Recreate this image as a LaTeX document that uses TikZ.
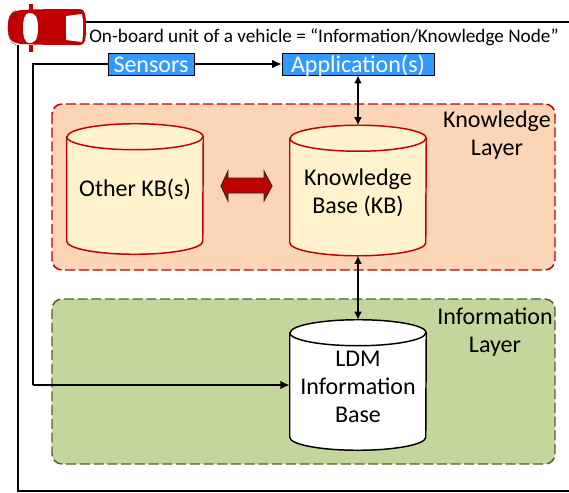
\documentclass[tikz,border=0pt]{standalone}
\usepackage{fontspec}
\setmainfont{Carlito}
\usetikzlibrary{arrows.meta}
\definecolor{kbred}{HTML}{C00000}
\definecolor{kbfill}{HTML}{FFF2CC}
\definecolor{klayer}{HTML}{FBD5B5}
\definecolor{ilayer}{HTML}{C3D69B}
\definecolor{iedge}{HTML}{4F6228}
\definecolor{appblue}{HTML}{3399FF}
\tikzset{
  x=0.75pt,y=-0.75pt,
  layerbox/.style={rounded corners=7.5pt,line width=1.1pt,dash pattern=on 7.5pt off 2.8pt},
  cylbody/.style={line width=1.1pt},
  bluebox/.style={draw=black,fill=appblue,text=white,line width=0.7pt,minimum height=16.5pt,inner sep=0pt,font=\fontsize{18}{20}\selectfont},
  bigtext/.style={align=center,font=\fontsize{18}{21}\selectfont,inner sep=0pt},
  cylslot/.style={minimum width=102pt,minimum height=97.5pt,inner sep=0pt},
  wire/.style={line width=1.4pt,-{Latex[length=7pt,width=6.5pt]}},
  bothwire/.style={line width=1.4pt,{Latex[length=6pt,width=6pt]}-{Latex[length=6pt,width=6pt]}},
  frameline/.style={line width=1.4pt}
}
\newcommand{\cylshape}[3]{% node name, edge, fill
  \path[cylbody,draw=#2,fill=#3]
    ([yshift=-9.75pt]#1.north west) -- ([yshift=9.75pt]#1.south west)
    arc[start angle=180,end angle=360,x radius=51pt,y radius=9.75pt]
    -- ([yshift=-9.75pt]#1.north east)
    arc[start angle=0,end angle=180,x radius=51pt,y radius=9.75pt] -- cycle;
  \draw[cylbody,draw=#2] ([yshift=-9.75pt]#1.north west)
    arc[start angle=180,end angle=360,x radius=51pt,y radius=9.75pt];
}
\begin{document}
\begin{tikzpicture}
\useasboundingbox (0,0) rectangle (569,493);
% outer frame
\coordinate (frameL) at (18,45);
\coordinate (frameBL) at (18,491);
\coordinate (frameBR) at (569,491);
\coordinate (frameT) at (85,22);
\coordinate (frameTR) at (569,22);
\draw[frameline] (frameL) -- (frameBL) -- (frameBR);
\draw[frameline] (frameT) -- (frameTR);
% layers
\fill[klayer] (52,104) [rounded corners=7.5pt] rectangle (555,270);
\draw[layerbox,draw=kbred] (52,104) rectangle (555,270);
\fill[ilayer] (52,299) [rounded corners=7.5pt] rectangle (555,464);
\draw[layerbox,draw=iedge] (52,299) rectangle (555,464);
\node[bigtext] (klabel) at (497,135.5) {Knowledge\\Layer};
\node[bigtext] (ilabel) at (495,332) {Information\\Layer};
% cylinders
\node[cylslot] (other) at (135,189) {};
\node[cylslot] (kb) at (358,190.5) {};
\node[cylslot] (ldm) at (358,385) {};
\cylshape{other}{kbred}{kbfill}
\cylshape{kb}{kbred}{kbfill}
\cylshape{ldm}{black}{white}
\node[bigtext] (othertext) at (135,189) {Other KB(s)};
\node[bigtext] (kbtext) at (358,192.5) {Knowledge\\Base (KB)};
\node[bigtext] (ldmtext) at (358,386.5) {LDM\\Information\\Base};
% boxes
\node[bluebox,minimum width=64.5pt,text depth=0pt,text height=0pt] (sensors) at (151,64) {\raisebox{-6pt}{Sensors}};
\node[bluebox,minimum width=114pt,text depth=0pt,text height=0pt] (app) at (358,64) {\raisebox{-6pt}{Application(s)}};
\node[anchor=west,inner sep=0pt,font=\fontsize{14.4}{16}\selectfont] (title) at (89,37) {On-board unit of a vehicle = “Information/Knowledge Node”};
% connectors
\coordinate (wireA) at (33,64);
\coordinate (wireB) at (33,385);
\draw[line width=1.4pt] (sensors.west) -- (wireA) -- (wireB);
\draw[wire] (wireB) -- (ldm.west |- wireB);
\draw[wire,line width=1.1pt] (sensors.east) -- (app.west);
\draw[bothwire] (app.south) -- (kb.north);
\draw[bothwire] (kb.south) -- (ldm.north);
% double arrow
\draw[fill=kbred,draw=black!85,line width=0.7pt,line join=miter]
  (221,186) -- (228,171) -- (228,178) -- (264,178) -- (264,171) -- (272,186)
  -- (264,201) -- (264,193) -- (228,193) -- (228,201) -- cycle;
% car
\fill[kbred] (28.5,4) rectangle (32.5,10);
\fill[kbred] (28.5,45) rectangle (32.5,52);
\draw[gray,line width=0.5pt] (16,10) .. controls (10,12) and (8,20) .. (8,27);
\draw[gray,line width=0.5pt] (16,45) .. controls (10,43) and (8,36) .. (8,27);
\fill[kbred] (8,27) .. controls (8,14) and (12,11) .. (22,10)
  .. controls (40,9) and (62,9) .. (80,9)
  .. controls (85,9) and (86,15) .. (86,27)
  .. controls (86,40) and (85,45) .. (80,45)
  .. controls (62,45) and (40,45) .. (22,44)
  .. controls (12,43) and (8,40) .. (8,27) -- cycle;
\fill[white] (29,13) .. controls (34,13) and (38,15) .. (38,28)
  .. controls (38,41) and (34,43) .. (29,43)
  .. controls (25,43) and (23,37) .. (23,28)
  .. controls (23,19) and (25,13) .. (29,13) -- cycle;
\fill[white] (66,16) -- (82,14)
  .. controls (83.5,20) and (83.5,36) .. (82,42)
  -- (66,40) -- cycle;
\end{tikzpicture}
\end{document}
